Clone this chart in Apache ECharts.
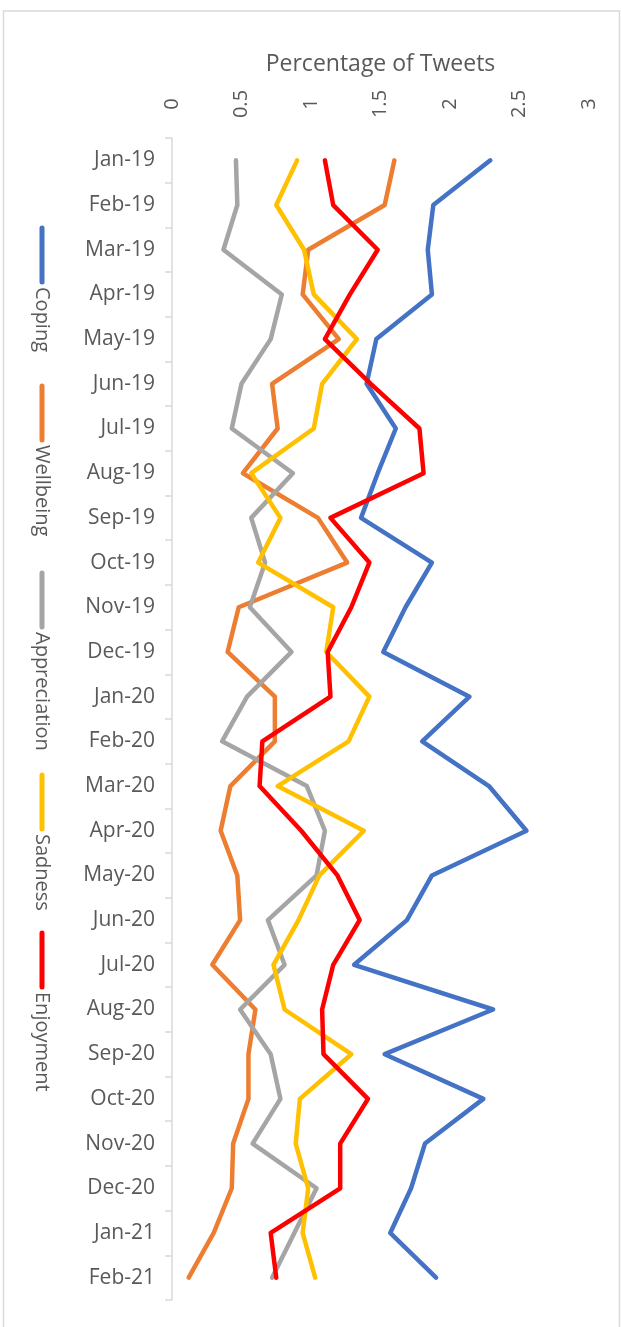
<!DOCTYPE html>
<html>
<head>
<meta charset="utf-8">
<script src="https://cdn.jsdelivr.net/npm/echarts@6/dist/echarts.min.js"></script>
<style>
html,body{margin:0;padding:0;background:#fff;}
#chart{width:621px;height:1327px;}
</style>
</head>
<body>
<div id="chart"></div>
<script>
const months = ['Jan-19','Feb-19','Mar-19','Apr-19','May-19','Jun-19','Jul-19','Aug-19','Sep-19','Oct-19','Nov-19','Dec-19',
  'Jan-20','Feb-20','Mar-20','Apr-20','May-20','Jun-20','Jul-20','Aug-20','Sep-20','Oct-20','Nov-20','Dec-20','Jan-21','Feb-21'];
const seriesNames = ['Coping','Wellbeing','Appreciation','Sadness','Enjoyment'];
const coping      = [2.29,1.88,1.84,1.87,1.47,1.40,1.61,1.48,1.36,1.87,1.68,1.52,2.14,1.80,2.28,2.55,1.87,1.69,1.31,2.31,1.53,2.24,1.82,1.72,1.57,1.90];
const wellbeing   = [1.60,1.53,0.98,0.94,1.20,0.72,0.76,0.51,1.05,1.26,0.48,0.40,0.74,0.74,0.42,0.35,0.47,0.49,0.29,0.60,0.55,0.55,0.44,0.43,0.30,0.12];
const appreciation= [0.46,0.47,0.37,0.79,0.71,0.50,0.43,0.87,0.57,0.67,0.56,0.86,0.54,0.36,0.97,1.10,1.04,0.69,0.81,0.49,0.71,0.78,0.58,1.04,0.88,0.72];
const sadness     = [0.90,0.75,0.95,1.02,1.33,1.08,1.02,0.57,0.78,0.62,1.16,1.11,1.42,1.27,0.76,1.38,1.06,0.91,0.73,0.81,1.29,0.92,0.89,0.98,0.94,1.03];
const enjoyment   = [1.10,1.16,1.48,1.28,1.10,1.43,1.78,1.81,1.14,1.42,1.29,1.12,1.14,0.65,0.63,0.93,1.19,1.35,1.16,1.08,1.09,1.41,1.21,1.21,0.71,0.75];
const valueTicks = {min:0, max:3, interval:0.5};

const colors = ['#4472C4','#ED7D31','#A5A5A5','#FFC000','#FF0000'];
const allData = [coping, wellbeing, appreciation, sadness, enjoyment];
const FONT = 'Open Sans';
const TXT = '#595959';

const chart = echarts.init(document.getElementById('chart'));

// legend drawn as rotated graphic items
const legendStarts = [228, 386, 573, 775, 933];
const legendGraphics = [];
legendGraphics.push({
  type:'rect', shape:{x:3.5,y:11,width:616,height:1340},
  style:{fill:'none', stroke:'#d9d9d9', lineWidth:1.5}, silent:true
});
seriesNames.forEach((name, i) => {
  const y0 = legendStarts[i];
  legendGraphics.push({
    type:'line', shape:{x1:42,y1:y0,x2:42,y2:y0+54},
    style:{stroke:colors[i], lineWidth:5, lineCap:'round'}, silent:true
  });
  legendGraphics.push({
    type:'text', x:42, y:y0+59, rotation:-Math.PI/2,
    style:{text:name, x:0, y:0, align:'left', verticalAlign:'middle', fill:TXT, font:'20px "'+FONT+'"'}, silent:true
  });
});

chart.setOption({
  animation:false,
  color: colors,
  grid:{left:172, right:32, top:138, bottom:27, containLabel:false},
  xAxis:{
    type:'value', position:'top', min:valueTicks.min, max:valueTicks.max, interval:valueTicks.interval,
    name:'Percentage of Tweets', nameLocation:'middle', nameGap:62,
    nameTextStyle:{color:TXT, fontFamily:FONT, fontSize:23},
    axisLine:{show:false}, axisTick:{show:false}, splitLine:{show:false},
    axisLabel:{rotate:-90, align:'center', verticalAlign:'middle', color:TXT, fontFamily:FONT, fontSize:20, margin:34}
  },
  yAxis:{
    type:'category', data:months, inverse:true, boundaryGap:true,
    axisLine:{show:true, lineStyle:{color:'#d9d9d9', width:1.5}},
    axisTick:{show:true, length:7, lineStyle:{color:'#d9d9d9', width:1.5}},
    axisLabel:{color:TXT, fontFamily:FONT, fontSize:21, margin:17}
  },
  graphic: legendGraphics,
  series: seriesNames.map((n, i) => ({
    name:n, type:'line', data:allData[i], showSymbol:false, symbol:'none',
    lineStyle:{width:4.5, color:colors[i], cap:'round', join:'round'}
  }))
});
</script>
</body>
</html>
